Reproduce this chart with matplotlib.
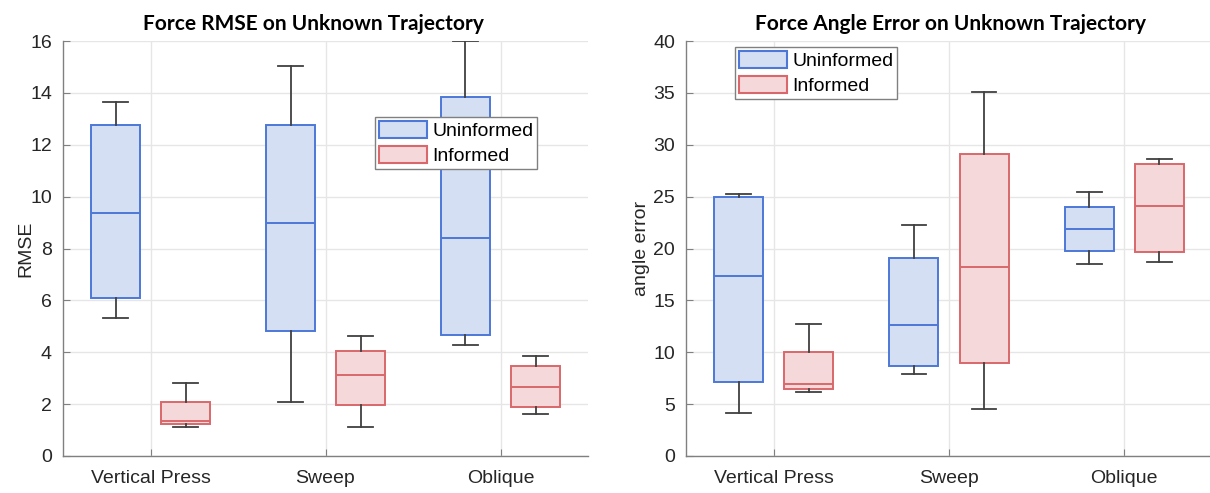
import matplotlib
matplotlib.use("Agg")
import matplotlib.pyplot as plt
from matplotlib.patches import Patch

# categories on the x axis
categories = ["Vertical Press", "Sweep", "Oblique"]
groups = ["Uninformed", "Informed"]

# box stats per category: (whisker low, q1, median, q3, whisker high)
rmse_uninformed = [
    (5.32, 6.09, 9.36, 12.76, 13.63),
    (2.08, 4.81, 9.00, 12.76, 15.04),
    (4.29, 4.68, 8.42, 13.85, 16.00),
]
rmse_informed = [
    (1.13, 1.24, 1.35, 2.09, 2.82),
    (1.13, 1.96, 3.12, 4.04, 4.64),
    (1.63, 1.90, 2.65, 3.46, 3.87),
]
angle_uninformed = [
    (4.17, 7.15, 17.37, 25.00, 25.30),
    (7.88, 8.65, 12.66, 19.07, 22.30),
    (18.49, 19.78, 21.90, 24.00, 25.45),
]
angle_informed = [
    (6.15, 6.41, 6.96, 10.03, 12.72),
    (4.55, 8.97, 18.20, 29.10, 35.13),
    (18.72, 19.65, 24.10, 28.14, 28.62),
]

blue_edge = "#4D78D8"
blue_fill = "#D5DFF3"
red_edge = "#D9676B"
red_fill = "#F5D8DA"
whisk_col = "#404040"

plt.rcParams["font.family"] = ["Liberation Sans", "DejaVu Sans"]


def make_stats(rows):
    out = []
    for lo, q1, med, q3, hi in rows:
        out.append({"whislo": lo, "q1": q1, "med": med, "q3": q3,
                    "whishi": hi, "fliers": []})
    return out


def draw_group(ax, rows, pos, edge, fill):
    stats = make_stats(rows)
    ax.bxp(stats, positions=pos, widths=0.28, capwidths=0.14,
           patch_artist=True, showfliers=False, manage_ticks=False,
           boxprops=dict(facecolor=fill, edgecolor=edge, linewidth=1.4),
           medianprops=dict(color=edge, linewidth=1.4),
           whiskerprops=dict(color=whisk_col, linewidth=1.3),
           capprops=dict(color=whisk_col, linewidth=1.3),
           zorder=3)


def style_axes(ax, ymax, ystep, title, ylabel, label_x, title_x):
    ax.set_xlim(0.5, 3.5)
    ax.set_ylim(0, ymax)
    ax.set_xticks(range(1, len(categories) + 1))
    ax.set_xticklabels(categories)
    ax.set_yticks(range(0, ymax + 1, ystep))
    ax.tick_params(direction="in", length=5, width=0.8, colors="#808080",
                   labelcolor="#262626", labelsize=14, pad=8)
    ax.tick_params(axis="x", pad=10)
    for side in ["top", "right"]:
        ax.spines[side].set_visible(False)
    for side in ["left", "bottom"]:
        ax.spines[side].set_color("#808080")
        ax.spines[side].set_linewidth(1.0)
    ax.grid(True, color="#E6E6E6", linewidth=1.0, zorder=0)
    ax.set_axisbelow(True)
    t = ax.set_title(title, fontsize=15, fontweight="bold", family="Lato",
                     color="#000000", pad=8)
    t.set_x(title_x)
    ax.set_ylabel(ylabel, fontsize=14, color="#262626")
    ax.yaxis.set_label_coords(label_x, 0.5)


fig = plt.figure(figsize=(12.1, 4.93), dpi=100)
ax1 = fig.add_axes([63 / 1210, 37 / 493, 525 / 1210, 415 / 493])
ax2 = fig.add_axes([686 / 1210, 37 / 493, 526 / 1210, 415 / 493])

x = [1, 2, 3]
left = [p - 0.2 for p in x]
right = [p + 0.2 for p in x]

draw_group(ax1, rmse_uninformed, left, blue_edge, blue_fill)
draw_group(ax1, rmse_informed, right, red_edge, red_fill)
draw_group(ax2, angle_uninformed, left, blue_edge, blue_fill)
draw_group(ax2, angle_informed, right, red_edge, red_fill)

style_axes(ax1, 16, 2, "Force RMSE on Unknown Trajectory", "RMSE",
           -0.054, 0.477)
style_axes(ax2, 40, 5, "Force Angle Error on Unknown Trajectory",
           "angle error", -0.069, 0.503)

handles = [Patch(facecolor=blue_fill, edgecolor=blue_edge, linewidth=1.5),
           Patch(facecolor=red_fill, edgecolor=red_edge, linewidth=1.5)]

for ax, anchor in [(ax1, (0.594, 0.817)), (ax2, (0.093, 0.986))]:
    leg = ax.legend(handles, groups, loc="upper left", bbox_to_anchor=anchor,
                    borderaxespad=0, fontsize=14, handlelength=2.5,
                    handleheight=1.0, handletextpad=0.25, labelspacing=0.3,
                    borderpad=0.2, fancybox=False, framealpha=1,
                    edgecolor="#808080")
    leg.get_frame().set_linewidth(1.0)
    leg.set_zorder(5)

fig.savefig("out.png", dpi=100)
